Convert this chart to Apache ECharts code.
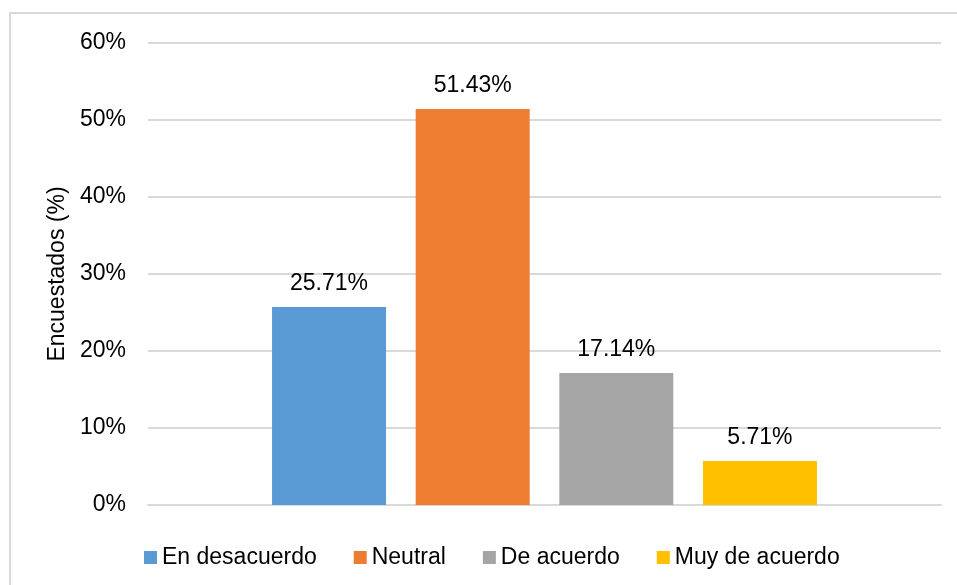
<!DOCTYPE html>
<html>
<head>
<meta charset="utf-8">
<script src="https://cdn.jsdelivr.net/npm/echarts@6/dist/echarts.min.js"></script>
<style>
html,body{margin:0;padding:0;background:#fff;}
#c{width:957px;height:585px;}
</style>
</head>
<body>
<div id="c"></div>
<script>
const categories = [''];
const seriesNames = ['En desacuerdo', 'Neutral', 'De acuerdo', 'Muy de acuerdo'];
const seriesValues = [25.71, 51.43, 17.14, 5.71];
const seriesColors = ['#5B9BD5', '#ED7D31', '#A5A5A5', '#FFC000'];
const yTicks = [0, 10, 20, 30, 40, 50, 60];

const chart = echarts.init(document.getElementById('c'), null, {renderer: 'canvas'});
const font = 'Liberation Sans, Arial, sans-serif';
const fs = 23;
chart.setOption({
  animation: false,
  graphic: [{
    type: 'rect', shape: {x: 10, y: 13, width: 960, height: 590},
    style: {fill: 'none', stroke: '#d9d9d9', lineWidth: 2}, silent: true
  }],
  grid: {left: 148, right: 16, top: 43, bottom: 80, containLabel: false},
  legend: {
    top: 541, left: 139,
    itemWidth: 13, itemHeight: 13, itemGap: 37,
    icon: 'rect',
    textStyle: {fontFamily: font, fontSize: fs, color: '#000'},
    data: seriesNames
  },
  xAxis: {
    type: 'category', data: categories,
    axisLine: {lineStyle: {color: '#d9d9d9', width: 2}},
    axisTick: {show: false}, axisLabel: {show: false}
  },
  yAxis: {
    type: 'value', min: yTicks[0], max: yTicks[yTicks.length-1], interval: 10,
    name: 'Encuestados (%)', nameLocation: 'middle', nameGap: 76,
    nameTextStyle: {fontFamily: font, fontSize: fs, color: '#000'},
    axisLine: {show: false}, axisTick: {show: false},
    axisLabel: {formatter: v => v + '%', fontFamily: font, fontSize: fs, color: '#000', margin: 22},
    splitLine: {lineStyle: {color: '#d9d9d9', width: 2}}
  },
  series: seriesNames.map((n, i) => ({
    name: n, type: 'bar', data: [seriesValues[i]],
    barWidth: 114, barGap: '26%',
    itemStyle: {color: seriesColors[i]},
    label: {show: true, position: 'top', distance: 12, formatter: p => p.value.toFixed(2) + '%',
      fontFamily: font, fontSize: fs, color: '#000'}
  }))
});
</script>
</body>
</html>
